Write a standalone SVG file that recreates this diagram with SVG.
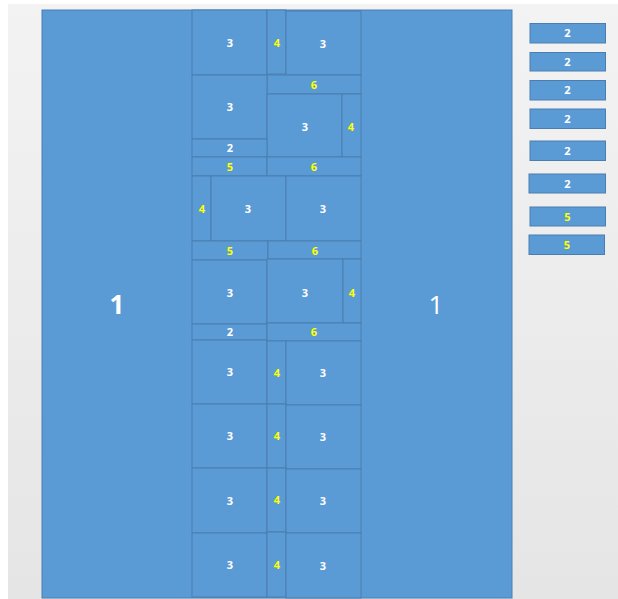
<svg xmlns="http://www.w3.org/2000/svg" width="618" height="599" viewBox="0 0 618 599">
<defs>
<linearGradient id="bg" x1="0" y1="0" x2="0" y2="1">
<stop offset="0" stop-color="#F3F3F3"/>
<stop offset="1" stop-color="#E5E5E5"/>
</linearGradient>
</defs>
<style>
.b{fill:#5B9BD5;stroke:#4A7EB0;stroke-width:1}
.w{fill:#FFFFFF;font-family:"Open Sans","Liberation Sans",sans-serif;font-weight:bold;font-size:11px;text-anchor:middle}
.y{fill:#FFFF00;font-family:"Open Sans","Liberation Sans",sans-serif;font-weight:bold;font-size:11px;text-anchor:middle}
.big{fill:#FFFFFF;font-family:"Open Sans","Liberation Sans",sans-serif;font-size:26px;text-anchor:middle}
</style>
<rect x="0" y="0" width="618" height="599" fill="#FFFFFF"/>
<rect x="8" y="4" width="610" height="595" fill="url(#bg)"/>
<g id="main">
<rect class="b" x="42" y="10" width="470" height="588"/>
<text class="big" x="117" y="314" font-weight="bold">1</text>
<text class="big" x="436" y="314">1</text>
</g>
<g id="center">
<g id="r1"><rect class="b" x="192" y="10" width="75" height="65"/><text class="w" x="230" y="47">3</text>
<rect class="b" x="267" y="10" width="19" height="64"/><text class="y" x="277" y="47">4</text>
<rect class="b" x="286" y="11" width="75" height="64"/><text class="w" x="323" y="48">3</text></g>
<g id="r2"><rect class="b" x="267" y="75" width="94" height="19"/><text class="y" x="314" y="89">6</text>
<rect class="b" x="192" y="75" width="75" height="64"/><text class="w" x="230" y="111">3</text>
<rect class="b" x="267" y="94" width="75" height="63"/><text class="w" x="305" y="131">3</text>
<rect class="b" x="342" y="94" width="19" height="63"/><text class="y" x="351" y="131">4</text>
<rect class="b" x="192" y="139" width="75" height="18"/><text class="w" x="230" y="152">2</text></g>
<g id="r3"><rect class="b" x="192" y="157" width="75" height="19"/><text class="y" x="230" y="171">5</text>
<rect class="b" x="267" y="157" width="94" height="19"/><text class="y" x="314" y="171">6</text></g>
<g id="r4"><rect class="b" x="192" y="176" width="19" height="65"/><text class="y" x="202" y="213">4</text>
<rect class="b" x="211" y="176" width="75" height="65"/><text class="w" x="248" y="213">3</text>
<rect class="b" x="286" y="176" width="75" height="65"/><text class="w" x="323" y="213">3</text></g>
<g id="r5"><rect class="b" x="192" y="241" width="76" height="19"/><text class="y" x="230" y="255">5</text>
<rect class="b" x="268" y="241" width="93" height="18"/><text class="y" x="315" y="255">6</text></g>
<g id="r6"><rect class="b" x="192" y="260" width="75" height="64"/><text class="w" x="230" y="297">3</text>
<rect class="b" x="267" y="259" width="76" height="64"/><text class="w" x="305" y="297">3</text>
<rect class="b" x="343" y="259" width="18" height="64"/><text class="y" x="352" y="297">4</text></g>
<g id="r7"><rect class="b" x="192" y="324" width="75" height="16"/><text class="w" x="230" y="336">2</text>
<rect class="b" x="267" y="323" width="94" height="18"/><text class="y" x="314" y="336">6</text></g>
<g id="r8"><rect class="b" x="192" y="340" width="75" height="64"/><text class="w" x="230" y="376">3</text>
<rect class="b" x="267" y="341" width="19" height="63"/><text class="y" x="277" y="377">4</text>
<rect class="b" x="286" y="341" width="75" height="64"/><text class="w" x="323" y="377">3</text></g>
<g id="r9"><rect class="b" x="192" y="404" width="75" height="64"/><text class="w" x="230" y="440">3</text>
<rect class="b" x="267" y="404" width="19" height="64"/><text class="y" x="277" y="440">4</text>
<rect class="b" x="286" y="405" width="75" height="64"/><text class="w" x="323" y="441">3</text></g>
<g id="r10"><rect class="b" x="192" y="468" width="75" height="65"/><text class="w" x="230" y="505">3</text>
<rect class="b" x="267" y="468" width="19" height="64"/><text class="y" x="277" y="504">4</text>
<rect class="b" x="286" y="469" width="75" height="64"/><text class="w" x="323" y="505">3</text></g>
<g id="r11"><rect class="b" x="192" y="533" width="75" height="64"/><text class="w" x="230" y="569">3</text>
<rect class="b" x="267" y="532" width="19" height="65"/><text class="y" x="277" y="569">4</text>
<rect class="b" x="286" y="533" width="75" height="65"/><text class="w" x="323" y="570">3</text></g>
</g>
<g id="legend">
<g id="L1"><rect class="b" x="530" y="23.5" width="75.5" height="19.5"/><text class="w" x="567.5" y="37">2</text></g>
<g id="L2"><rect class="b" x="530" y="52.5" width="75.5" height="18.5"/><text class="w" x="567.5" y="66">2</text></g>
<g id="L3"><rect class="b" x="530" y="80.5" width="75.5" height="19.5"/><text class="w" x="567.5" y="94">2</text></g>
<g id="L4"><rect class="b" x="530" y="109" width="75.5" height="19.5"/><text class="w" x="567.5" y="123">2</text></g>
<g id="L5"><rect class="b" x="530" y="141" width="75.5" height="19.5"/><text class="w" x="567.5" y="155">2</text></g>
<g id="L6"><rect class="b" x="529" y="174" width="76.5" height="19"/><text class="w" x="567.5" y="188">2</text></g>
<g id="L7"><rect class="b" x="530" y="207" width="75.5" height="19"/><text class="y" x="567.5" y="221">5</text></g>
<g id="L8"><rect class="b" x="529" y="235" width="75.5" height="19.5"/><text class="y" x="567" y="249">5</text></g>
</g>
</svg>
